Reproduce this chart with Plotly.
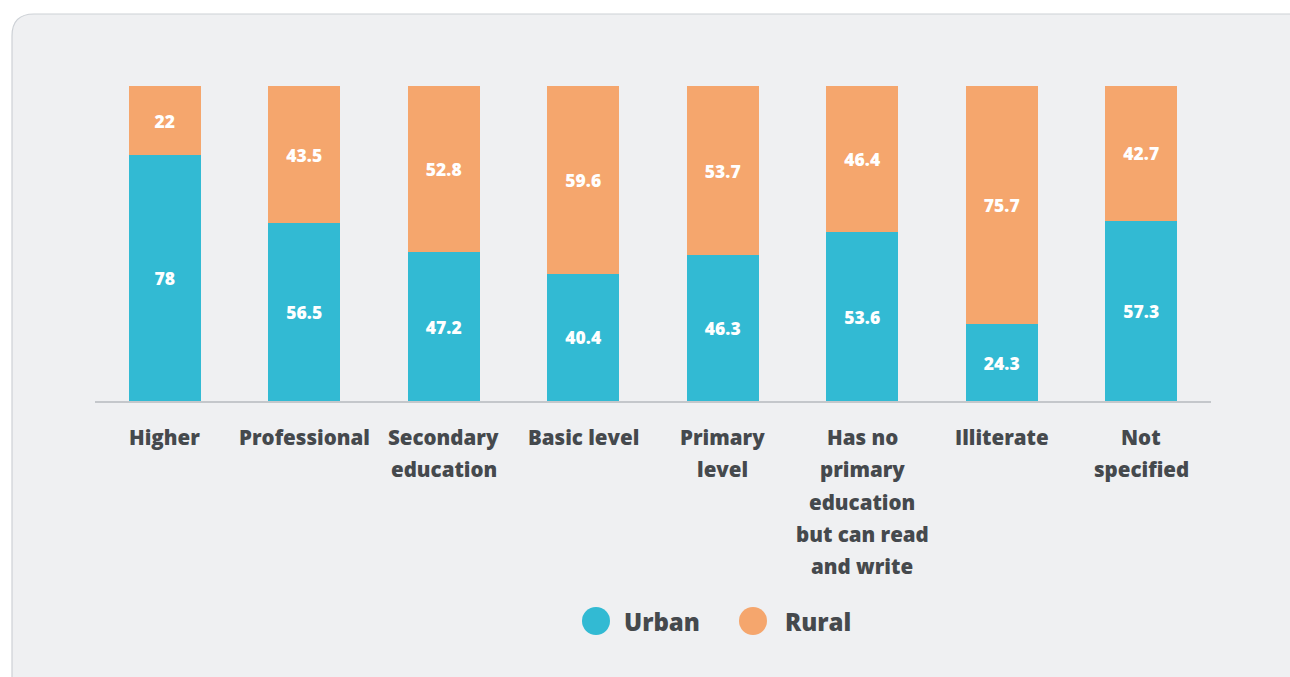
import plotly.graph_objects as go

categories = ["Higher", "Professional", "Secondary education", "Basic level",
              "Primary level", "Has no primary education but can read and write",
              "Illiterate", "Not specified"]
category_lines = [["Higher"], ["Professional"], ["Secondary", "education"], ["Basic level"],
                  ["Primary", "level"], ["Has no", "primary", "education", "but can read", "and write"],
                  ["Illiterate"], ["Not", "specified"]]
urban = [78, 56.5, 47.2, 40.4, 46.3, 53.6, 24.3, 57.3]
rural = [22, 43.5, 52.8, 59.6, 53.7, 46.4, 75.7, 42.7]
series_names = ["Urban", "Rural"]

URBAN_C = "#32bad3"
RURAL_C = "#f5a66d"
TXT = "#45494d"
FONT = "'Open Sans', sans-serif"

W, H = 1290, 677
L, R, T, B = 95, 1211, 86, 401
pw, ph = R - L, B - T

def px_x(p):
    return (p - L) / pw

def px_y(p):
    return (B - p) / ph

fig = go.Figure()
xs = list(range(len(categories)))
for name, vals, col in [(series_names[0], urban, URBAN_C), (series_names[1], rural, RURAL_C)]:
    fig.add_trace(go.Bar(
        x=xs, y=vals, name=name, marker=dict(color=col, line=dict(width=0)),
        text=[f"{v:g}" for v in vals], textposition="inside", insidetextanchor="middle",
        textfont=dict(family=FONT, size=17.5, color="white", weight=800),
        showlegend=False, hoverinfo="skip"))

# rounded card background
x0, y0, x1, y1, r = 12, 14, 1320, 700, 22
def P(x, y):
    return f"{px_x(x):.5f},{px_y(y):.5f}"
path = (f"M {P(x0 + r, y0)} L {P(x1, y0)} L {P(x1, y1)} L {P(x0, y1)} "
        f"L {P(x0, y0 + r)} Q {P(x0, y0)} {P(x0 + r, y0)} Z")
shapes = [dict(type="path", xref="paper", yref="paper", path=path,
               fillcolor="#eff0f2", line=dict(color="#cdd1d6", width=1.2), layer="below")]

annotations = []
line_gap = 32.3
for i, lines in enumerate(category_lines):
    for j, ln in enumerate(lines):
        annotations.append(dict(x=i, xref="x", y=px_y(437 + j * line_gap), yref="paper",
                                text=ln, showarrow=False, xanchor="center", yanchor="middle",
                                font=dict(family=FONT, size=20.5, color=TXT, weight=800)))

# legend
for cx, tx, name, col in [(596, 622, series_names[0], URBAN_C), (753, 783, series_names[1], RURAL_C)]:
    shapes.append(dict(type="circle", xref="paper", yref="paper", xsizemode="pixel", ysizemode="pixel",
                       xanchor=px_x(cx), yanchor=px_y(621), x0=-14, x1=14, y0=-14, y1=14,
                       fillcolor=col, line=dict(width=0)))
    annotations.append(dict(x=px_x(tx), xref="paper", y=px_y(621), yref="paper", text=name,
                            showarrow=False, xanchor="left", yanchor="middle",
                            font=dict(family=FONT, size=24, color=TXT, weight=800)))

fig.update_layout(
    width=W, height=H, barmode="stack", bargap=0.484,
    margin=dict(l=L, r=W - R, t=T, b=H - B, pad=0),
    paper_bgcolor="white", plot_bgcolor="rgba(0,0,0,0)",
    xaxis=dict(range=[-0.5, len(categories) - 0.5], showticklabels=False, showgrid=False,
               zeroline=False, showline=True, linecolor="#c4c7cb", linewidth=1.5, ticks=""),
    yaxis=dict(range=[0, 100], visible=False, showgrid=False, zeroline=False),
    shapes=shapes, annotations=annotations, uniformtext=dict(mode=False),
)
fig.write_html("out.html", config={"displayModeBar": False},
               post_script="document.body.style.margin='0';document.body.style.overflow='hidden';")
